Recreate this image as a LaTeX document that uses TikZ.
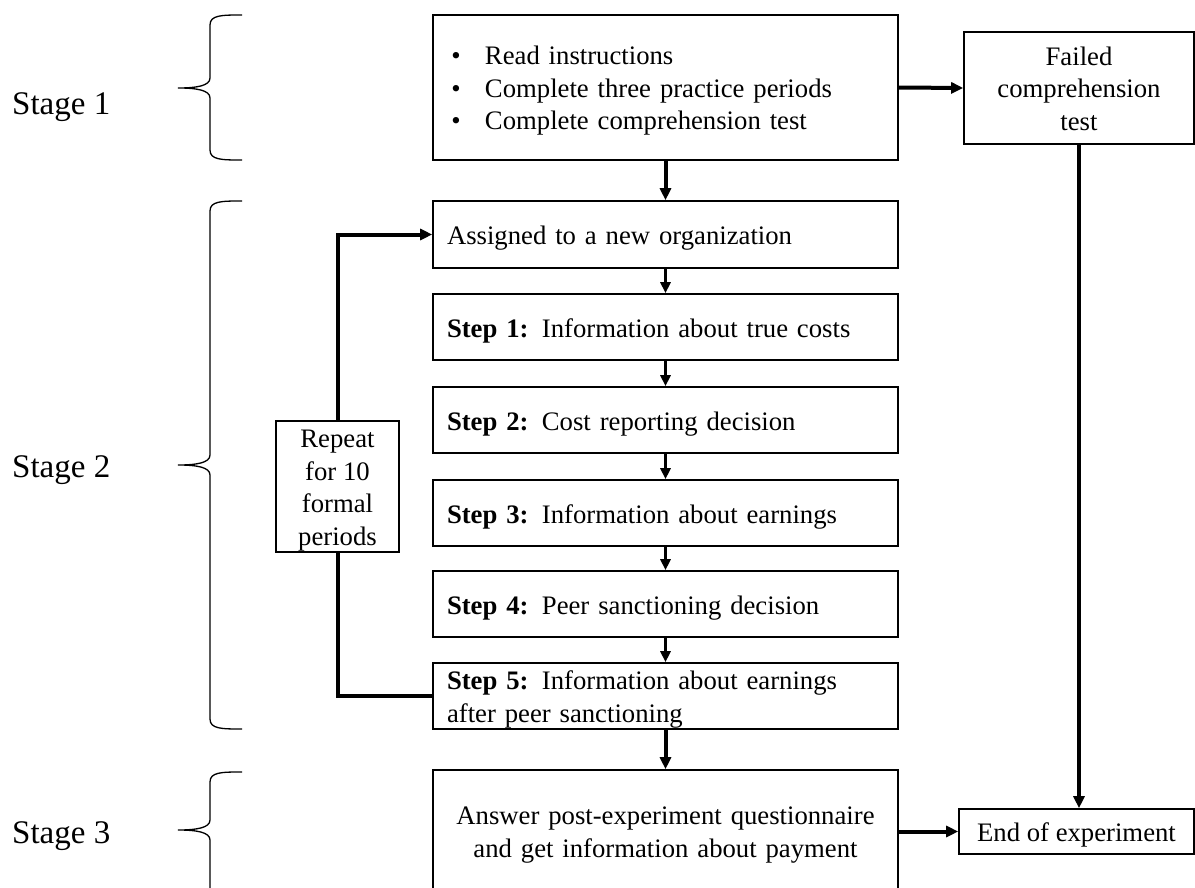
\documentclass[tikz,border=0pt]{standalone}
\usepackage{fontspec}
\setmainfont{Liberation Serif}
\usetikzlibrary{arrows.meta}
\newcommand\bxfont{\fontsize{26.7}{32.5}\selectfont}
\newcommand\stgfont{\fontsize{33}{40}\selectfont}
\begin{document}
\begin{tikzpicture}[x=1pt,y=-1pt,
  box/.style={draw, line width=1.6pt, inner ysep=0pt, text height=24pt, text depth=4pt, font=\bxfont},
  stepbox/.style={box, inner xsep=14pt, text width=437pt, align=left, minimum height=66pt},
  flow/.style={line width=3pt, -{Triangle[length=11pt,width=10pt]}},
  bigflow/.style={line width=4pt, -{Triangle[length=12pt,width=11pt]}},
  loopline/.style={line width=4pt, line join=miter},
  brace/.style={line width=1.3pt},
  stagelabel/.style={anchor=base west, font=\stgfont, inner sep=0pt}]
\useasboundingbox (0,0) rectangle (1195,888);
\clip (0,0) rectangle (1195,888);

% stage labels and braces
\node[stagelabel] (st1) at (12,115) {Stage 1};
\node[stagelabel] (st2) at (12,477) {Stage 2};
\node[stagelabel] (st3) at (12,843) {Stage 3};

\draw[brace] (242,15) .. controls (222,15) and (210,15) .. (210,25) -- (210,78)
  .. controls (210,86) and (196,88) .. (178,88)
  .. controls (196,88) and (210,90) .. (210,98) -- (210,150)
  .. controls (210,160) and (222,160) .. (242,160);
\draw[brace] (242,201) .. controls (222,201) and (210,201) .. (210,211) -- (210,455)
  .. controls (210,463) and (196,465) .. (178,465)
  .. controls (196,465) and (210,467) .. (210,475) -- (210,719)
  .. controls (210,729) and (222,729) .. (242,729);
\draw[brace] (242,772) .. controls (222,772) and (210,772) .. (210,782) -- (210,820)
  .. controls (210,828) and (196,830) .. (178,830)
  .. controls (196,830) and (210,832) .. (210,840) -- (210,900);

% stage 1
\node[box, inner xsep=14pt, text width=437pt, align=left, minimum height=145pt, text depth=69pt] (intro) at (665.5,87.5)
  {\makebox[38pt][l]{\,•}Read instructions\\
   \makebox[38pt][l]{\,•}Complete three practice periods\\
   \makebox[38pt][l]{\,•}Complete comprehension test};
\node[box, inner xsep=0pt, minimum width=230pt, minimum height=112pt, align=center, text height=89pt] (fail) at (1079,88)
  {Failed\\comprehension\\test};

% stage 2
\node[stepbox, minimum height=67pt] (asg) at (665.5,234.5) {Assigned to a new organization};
\node[stepbox] (s1) at (665.5,327) {\textbf{Step 1:} Information about true costs};
\node[stepbox] (s2) at (665.5,420) {\textbf{Step 2:} Cost reporting decision};
\node[stepbox] (s3) at (665.5,513) {\textbf{Step 3:} Information about earnings};
\node[stepbox] (s4) at (665.5,604) {\textbf{Step 4:} Peer sanctioning decision};
\node[stepbox, text depth=36.5pt] (s5) at (665.5,696) {\textbf{Step 5:} Information about earnings\\after peer sanctioning};
\node[box, inner xsep=0pt, minimum width=123pt, minimum height=131pt, align=center, text height=121.5pt] (rep) at (337.5,486.5)
  {Repeat\\for 10\\formal\\periods};

% stage 3
\node[box, inner xsep=14pt, text width=437pt, align=center, minimum height=128pt, text depth=42.5pt] (post) at (665.5,834)
  {Answer post-experiment questionnaire\\and get information about payment};
\node[box, inner xsep=0pt, minimum width=235pt, minimum height=45pt] (end) at (1076.5,831.5) {End of experiment};

% connectors
\draw[bigflow] (intro.east) -- (fail.west);
\draw[bigflow] (intro.south) -- (asg.north);
\draw[flow] (asg.south) -- (s1.north);
\draw[flow] (s1.south) -- (s2.north);
\draw[flow] (s2.south) -- (s3.north);
\draw[flow] (s3.south) -- (s4.north);
\draw[flow] (s4.south) -- (s5.north);
\draw[bigflow] (s5.south) -- (post.north);
\draw[loopline] (s5.west) -- (s5.west -| rep.south) -- (rep.south);
\draw[loopline, -{Triangle[length=12pt,width=11pt]}] (rep.north) -- (rep.north |- asg.west) -- (asg.west);
\draw[bigflow] (fail.south) -- (fail.south |- end.north);
\draw[bigflow] (end.west -| post.east) -- (end.west);
\end{tikzpicture}
\end{document}
